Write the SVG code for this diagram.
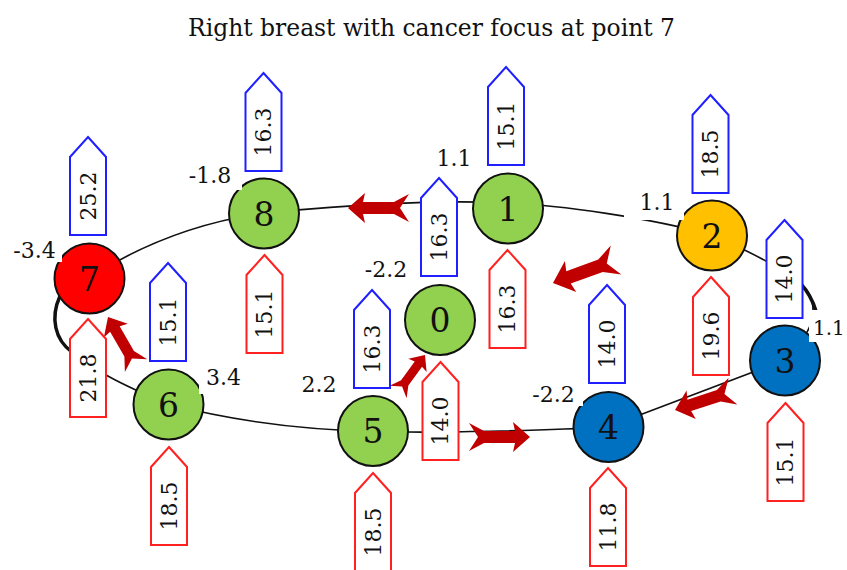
<svg xmlns="http://www.w3.org/2000/svg" xmlns:xlink="http://www.w3.org/1999/xlink" width="847" height="570" viewBox="0 0 847 570">
<style>
.title{font-family:"DejaVu Serif","Liberation Serif",serif;font-size:25px;fill:#111}
.line{fill:none;stroke:#111;stroke-width:1.6}
.thick{fill:none;stroke:#111;stroke-width:3.5;stroke-linecap:round}
.arr{fill:#C00000}
.node{stroke:#111;stroke-width:2}
.g{fill:#92D050}.o{fill:#FFC000}.b{fill:#0070C0}.r{fill:#FF0000}
.num{font-family:"DejaVu Serif","Liberation Serif",serif;font-size:33px;fill:#111;text-anchor:middle}
.val{font-family:"DejaVu Serif","Liberation Serif",serif;font-size:22px;fill:#111;text-anchor:middle}
.vs{text-anchor:start;font-size:20px}
.bg{fill:#fff}
.tb{fill:#fff;stroke:#1f1fff;stroke-width:2}
.tr{fill:#fff;stroke:#ff2020;stroke-width:2}
.tt{font-family:"DejaVu Serif","Liberation Serif",serif;font-size:22px;fill:#111;text-anchor:middle;dominant-baseline:central}
</style>
<defs>
<path id="tag" d="M0,0 L18,20 L18,98 L-18,98 L-18,20 Z"/>
<path id="arrow" d="M0,0 L-17,-15 L-15,-6 L-46,-6 L-61,-14 L-52,0 L-61,14 L-46,6 L-15,6 L-17,15 Z"/>
</defs>
<rect width="847" height="570" fill="#fff"/>
<text class="title" x="431.5" y="36" text-anchor="middle" textLength="487" lengthAdjust="spacingAndGlyphs">Right breast with cancer focus at point 7</text>

<g id="connectors">
<path class="line" d="M264,213 C340,206 430,199 508,203"/>
<path class="line" d="M508,203 C560,205 650,218 712,235"/>
<path class="line" d="M712,235 C760,256 800,278 808,292 C818,310 815,330 785,360"/>
<path class="thick" d="M801,284 Q811,295 816,311"/>
<path class="line" d="M785,360 L608,427"/>
<path class="line" d="M608,427 C560,430 420,434 373,431"/>
<path class="line" d="M373,431 C300,430 230,420 168,404"/>
<path class="line" d="M168,404 C115,382 95,370 72,352 C55,340 50,318 60,296"/>
<path class="thick" d="M72,352 C55,340 50,318 60,296"/>
<path class="line" d="M89,278 C140,245 200,222 264,213"/>
<use href="#arrow" class="arr" transform="translate(348,208) rotate(180)"/>
<use href="#arrow" class="arr" transform="translate(553,283) rotate(160) scale(1.1)"/>
<use href="#arrow" class="arr" transform="translate(675,410) rotate(162)"/>
<use href="#arrow" class="arr" transform="translate(530,437) rotate(0)"/>
<use href="#arrow" class="arr" transform="translate(425,355) rotate(-54) scale(0.75)"/>
<use href="#arrow" class="arr" transform="translate(108,317) rotate(240) scale(0.92)"/>
</g>

<g id="node0">
<circle class="node g" cx="440" cy="320" r="35"/>
<text class="num" x="440" y="332">0</text>
<rect class="bg" x="358" y="258" width="56" height="24"/>
<text class="val" x="386" y="277">-2.2</text>
<use href="#tag" class="tb" x="439" y="178"/>
<text class="tt" transform="translate(439,237) rotate(-90)">16.3</text>
<use href="#tag" class="tr" x="440.5" y="362"/>
<text class="tt" transform="translate(440.5,421) rotate(-90)">14.0</text>
</g>

<g id="node1">
<circle class="node g" cx="508" cy="208.5" r="35"/>
<text class="num" x="508" y="220.5">1</text>
<rect class="bg" x="436" y="148" width="36" height="22"/>
<text class="val" x="454" y="166">1.1</text>
<use href="#tag" class="tb" x="506" y="67"/>
<text class="tt" transform="translate(506,126) rotate(-90)">15.1</text>
<use href="#tag" class="tr" x="507.5" y="250"/>
<text class="tt" transform="translate(507.5,309) rotate(-90)">16.3</text>
</g>

<g id="node2">
<circle class="node o" cx="712" cy="235.5" r="35"/>
<text class="num" x="712" y="247.5">2</text>
<rect class="bg" x="624" y="190" width="60" height="30"/>
<text class="val" x="657" y="210">1.1</text>
<use href="#tag" class="tb" x="710.5" y="95"/>
<text class="tt" transform="translate(710.5,154) rotate(-90)">18.5</text>
<use href="#tag" class="tr" x="711" y="277"/>
<text class="tt" transform="translate(711,336) rotate(-90)">19.6</text>
</g>

<g id="node3">
<circle class="node b" cx="785" cy="360.5" r="35"/>
<text class="num" x="785" y="372.5">3</text>
<rect class="bg" x="809" y="310" width="38" height="32"/>
<text class="val vs" x="813" y="335">1.1</text>
<use href="#tag" class="tb" x="784.5" y="220"/>
<text class="tt" transform="translate(784.5,279) rotate(-90)">14.0</text>
<use href="#tag" class="tr" x="785.5" y="403"/>
<text class="tt" transform="translate(785.5,462) rotate(-90)">15.1</text>
</g>

<g id="node4">
<circle class="node b" cx="608.5" cy="427" r="35"/>
<text class="num" x="608.5" y="439">4</text>
<rect class="bg" x="525" y="384" width="58" height="22"/>
<text class="val" x="553.5" y="402">-2.2</text>
<use href="#tag" class="tb" x="607" y="285"/>
<text class="tt" transform="translate(607,344) rotate(-90)">14.0</text>
<use href="#tag" class="tr" x="608" y="468"/>
<text class="tt" transform="translate(608,527) rotate(-90)">11.8</text>
</g>

<g id="node5">
<circle class="node g" cx="373" cy="431" r="35"/>
<text class="num" x="373" y="443">5</text>
<rect class="bg" x="296" y="374" width="46" height="22"/>
<text class="val" x="319" y="392">2.2</text>
<use href="#tag" class="tb" x="372" y="290"/>
<text class="tt" transform="translate(372,349) rotate(-90)">16.3</text>
<use href="#tag" class="tr" x="373" y="473"/>
<text class="tt" transform="translate(373,532) rotate(-90)">18.5</text>
</g>

<g id="node6">
<circle class="node g" cx="168.5" cy="404.5" r="35"/>
<text class="num" x="168.5" y="416.5">6</text>
<rect class="bg" x="199" y="368" width="48" height="26"/>
<text class="val" x="223.5" y="385">3.4</text>
<use href="#tag" class="tb" x="168" y="263"/>
<text class="tt" transform="translate(168,322) rotate(-90)">15.1</text>
<use href="#tag" class="tr" x="169" y="447"/>
<text class="tt" transform="translate(169,506) rotate(-90)">18.5</text>
</g>

<g id="node7">
<circle class="node r" cx="89.5" cy="278.5" r="35"/>
<text class="num" x="89.5" y="290.5">7</text>
<rect class="bg" x="8" y="239" width="54" height="23"/>
<text class="val" x="34.5" y="258">-3.4</text>
<use href="#tag" class="tb" x="88" y="137"/>
<text class="tt" transform="translate(88,196) rotate(-90)">25.2</text>
<use href="#tag" class="tr" x="88" y="319"/>
<text class="tt" transform="translate(88,378) rotate(-90)">21.8</text>
</g>

<g id="node8">
<circle class="node g" cx="264" cy="213.5" r="35"/>
<text class="num" x="264" y="225.5">8</text>
<rect class="bg" x="184" y="164" width="58" height="26"/>
<text class="val" x="210" y="183">-1.8</text>
<use href="#tag" class="tb" x="263.5" y="73"/>
<text class="tt" transform="translate(263.5,132) rotate(-90)">16.3</text>
<use href="#tag" class="tr" x="264.5" y="255"/>
<text class="tt" transform="translate(264.5,314) rotate(-90)">15.1</text>
</g>
</svg>
